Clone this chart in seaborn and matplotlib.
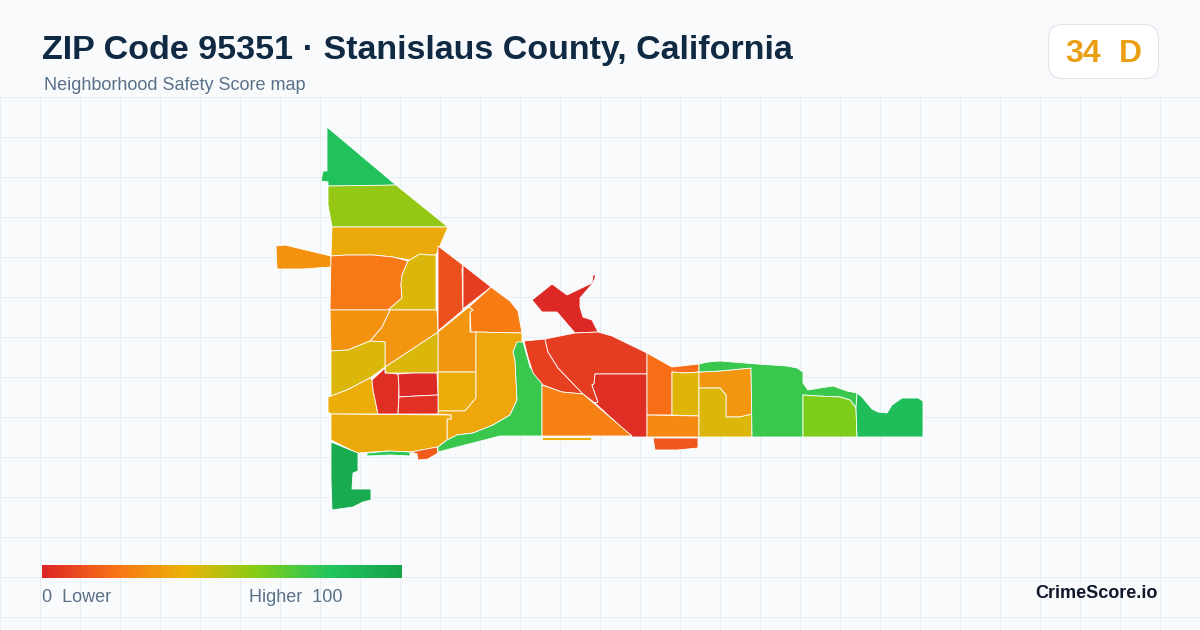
"""
Neighborhood safety score map for ZIP 95351, redrawn from tract outlines
"""

import numpy as np
import matplotlib.pyplot as plt
from matplotlib.patches import FancyBboxPatch, Polygon
import seaborn as sns

# Tract outlines as (x, y) map positions
tract_north = [(327, 127), (396, 185), (363, 186), (328, 186), (328, 182), (321, 181), (323, 171), (327, 171)]
tract_north2 = [(328, 186), (396, 185), (448, 227), (332, 227), (328, 205)]
tract_north3 = [(332, 227), (448, 227), (436, 255), (428, 255), (420, 254), (410, 260), (393, 257), (373, 255), (347, 255), (331, 256)]
tract_stub = [(276, 246), (285, 245), (331, 256), (331, 267), (303, 269), (277, 269)]
tract_west = [(331, 256), (347, 255), (373, 255), (393, 257), (408, 261), (402, 275), (401, 285), (402, 298), (388, 310), (330, 310)]
tract_west_yellow = [(408, 261), (420, 254), (428, 255), (436, 255), (436, 310), (388, 310), (402, 298), (401, 285), (402, 275)]
tract_redorange = [(438, 246), (463, 265), (462, 269), (463, 310), (438, 331)]
tract_red_wedge = [(463, 265), (491, 287), (463, 309)]
tract_ne_orange = [(491, 287), (510, 301), (518, 311), (522, 333), (471, 332), (470, 312), (473, 310), (469, 307)]
tract_mid_a = [(438, 332), (469, 307), (473, 310), (470, 312), (470, 332), (476, 332), (476, 372), (438, 372)]
tract_mid_b = [(438, 372), (476, 372), (476, 398), (465, 411), (438, 411)]
tract_mid_c = [(476, 332), (522, 333), (522, 342), (517, 343), (513, 352), (515, 360), (517, 400), (510, 415), (493, 425),
               (473, 433), (457, 435), (447, 440), (447, 419), (451, 419), (451, 415), (438, 414), (438, 411), (465, 411), (476, 398)]
tract_diag_yellow = [(438, 332), (438, 373), (413, 373), (386, 373), (385, 367)]
tract_center = [(390, 310), (437, 310), (438, 332), (385, 367), (385, 342), (370, 341), (382, 327)]
tract_west2 = [(330, 310), (390, 310), (382, 327), (370, 341), (348, 350), (331, 351)]
tract_west_yellow2 = [(331, 351), (348, 350), (370, 341), (385, 342), (385, 367), (370, 378), (347, 390), (331, 396)]
tract_low_left = [(328, 397), (331, 396), (347, 390), (370, 378), (372, 380), (373, 390), (378, 414), (331, 414), (328, 412)]
tract_red_a = [(385, 368), (385, 373), (398, 374), (399, 387), (398, 414), (378, 414), (373, 390), (372, 380)]
tract_red_b = [(398, 374), (413, 373), (437, 373), (438, 395), (416, 396), (399, 397), (399, 387)]
tract_red_c = [(399, 397), (416, 396), (438, 395), (438, 414), (398, 414)]
tract_south = [(331, 414), (451, 415), (451, 419), (447, 419), (447, 440), (438, 447), (423, 450), (410, 452), (387, 451),
               (358, 453), (353, 451), (331, 440)]
tract_strip = [(367, 453), (390, 451), (410, 452), (410, 456), (390, 455), (367, 456)]
tract_south_red = [(411, 452), (437, 447), (438, 453), (428, 459), (418, 460), (417, 454)]
tract_sw_green = [(331, 442), (353, 451), (358, 453), (358, 471), (353, 473), (352, 489), (371, 489), (371, 500), (363, 502),
                  (353, 507), (332, 510), (331, 480)]
tract_canal = [(517, 342), (523, 342), (530, 367), (542, 383), (542, 436), (500, 436), (438, 452), (438, 447), (447, 440),
               (457, 435), (473, 433), (493, 425), (510, 415), (517, 400), (515, 360), (513, 352)]
tract_north_red = [(532, 300), (552, 284), (567, 295), (592, 283), (593, 275), (596, 275), (593, 283), (580, 298), (580, 307),
                   (583, 317), (592, 320), (598, 332), (575, 333), (557, 312), (542, 312)]
tract_red_left = [(524, 341), (545, 339), (548, 352), (558, 368), (583, 394), (562, 392), (543, 385), (533, 373), (528, 357)]
tract_red_mid = [(545, 339), (575, 333), (598, 332), (612, 336), (647, 353), (647, 374), (595, 374), (594, 384), (592, 385),
                 (598, 402), (595, 403), (583, 394), (558, 368), (548, 352)]
tract_red_low = [(595, 374), (647, 374), (647, 437), (632, 437), (595, 403), (598, 402), (592, 385), (594, 384)]
tract_orange_low = [(542, 385), (562, 392), (583, 394), (632, 436), (542, 436)]
tract_sliver = [(542, 437), (567, 437), (591, 437), (591, 440), (567, 440), (542, 440)]
tract_east_orange = [(647, 353), (672, 367), (699, 364), (699, 372), (685, 373), (672, 372), (672, 415), (647, 415)]
tract_east_yellow = [(672, 372), (685, 373), (699, 372), (699, 416), (672, 415)]
tract_east_low = [(647, 415), (699, 416), (699, 437), (647, 437)]
tract_east_red = [(653, 438), (698, 438), (698, 448), (677, 450), (655, 450)]
tract_east_amber = [(699, 372), (720, 371), (751, 368), (752, 414), (740, 417), (726, 417), (726, 395), (720, 388), (699, 388)]
tract_east_yellow2 = [(699, 388), (720, 388), (726, 395), (726, 417), (740, 417), (752, 414), (752, 437), (699, 437)]
tract_east_green = [(699, 364), (708, 362), (720, 361), (757, 364), (787, 366), (797, 368), (803, 372), (803, 383), (808, 390),
                    (820, 388), (833, 386), (847, 391), (857, 393), (856, 408), (850, 400), (840, 397), (817, 396), (803, 395),
                    (803, 437), (752, 437), (751, 368), (720, 371), (699, 372)]
tract_east_lime = [(803, 395), (817, 396), (840, 397), (850, 400), (856, 408), (857, 437), (803, 437)]
tract_far_east = [(857, 393), (862, 397), (872, 409), (878, 412), (887, 413), (892, 405), (902, 398), (918, 398), (923, 401),
                  (923, 437), (857, 437), (856, 408)]

tracts = [
    tract_north, tract_north2, tract_north3, tract_stub, tract_west, tract_west_yellow, tract_redorange, tract_red_wedge,
    tract_ne_orange, tract_mid_a, tract_mid_b, tract_mid_c, tract_diag_yellow, tract_center, tract_west2, tract_west_yellow2,
    tract_low_left, tract_red_a, tract_red_b, tract_red_c, tract_south, tract_strip, tract_south_red, tract_sw_green,
    tract_canal, tract_north_red, tract_red_left, tract_red_mid, tract_red_low, tract_orange_low, tract_sliver,
    tract_east_orange, tract_east_yellow, tract_east_low, tract_east_red, tract_east_amber, tract_east_yellow2,
    tract_east_green, tract_east_lime, tract_far_east,
]
scores = [
    82, 57, 37, 30, 22, 43, 11, 6,
    23, 31, 38, 36, 43, 31, 30, 43,
    38, 2, 1, 3, 37, 78, 14, 95,
    75, 1, 7, 6, 2, 24, 38,
    19, 42, 27, 13, 31, 43,
    75, 61, 84,
]

scale_colors = ["#dc2626", "#f97316", "#eab308", "#84cc16", "#22c55e", "#16a34a"]
legend_values = np.arange(0, 101)

grid_x = np.arange(0, 1201, 40)
grid_y = np.arange(96.5, 631, 40)

title = "ZIP Code 95351 · Stanislaus County, California"
subtitle = "Neighborhood Safety Score map"
overall_score = "34"
overall_grade = "D"

W, H = 1200, 630
BG = "#f8fafc"
SLATE = "#5a7089"

sns.set_theme(style="whitegrid", rc={
    "figure.facecolor": BG,
    "axes.facecolor": BG,
    "grid.color": "#e6f0f4",
    "grid.linewidth": 0.75,
})
plt.rcParams['font.family'] = ['Liberation Sans', 'DejaVu Sans']

score_cmap = sns.blend_palette(scale_colors, as_cmap=True)

fig = plt.figure(figsize=(12, 6.3), dpi=100)

# Map area, the header stays free of the grid
ax = fig.add_axes([0, 0, 1, 1 - 96 / H])
ax.set_xlim(0, W)
ax.set_ylim(H, 96)
ax.set_xticks(grid_x)
ax.set_yticks(grid_y)
ax.tick_params(left=False, bottom=False, labelleft=False, labelbottom=False)
sns.despine(ax=ax, left=True, bottom=True, right=True, top=True)
ax.set_axisbelow(True)

for outline, score in zip(tracts, scores):
    ax.add_patch(Polygon(outline, closed=True, facecolor=score_cmap(score / 100),
                         edgecolor="white", linewidth=0.6, joinstyle="round"))

# Header
fig.text(42 / W, 1 - 59.5 / H, title, fontsize=24.5, fontweight="bold", color="#102a43", va="baseline", ha="left")
fig.text(44 / W, 1 - 90.5 / H, subtitle, fontsize=12.95, color=SLATE, va="baseline", ha="left")

# Score badge
overlay = fig.add_axes([0, 0, 1, 1], facecolor="none")
overlay.set_xlim(0, W)
overlay.set_ylim(H, 0)
overlay.axis("off")
overlay.add_patch(FancyBboxPatch((1048.5, 24.5), 110, 54, boxstyle="round,pad=0,rounding_size=14",
                                 facecolor="white", edgecolor="#dfe5ee", linewidth=0.8))
overlay.text(1065, 62, overall_score, fontsize=23, fontweight="bold", color="#eb9f12", va="baseline", ha="left")
overlay.text(1119, 62, overall_grade, fontsize=23, fontweight="bold", color="#eb9f12", va="baseline", ha="left")

# Legend ramp
legend_ax = fig.add_axes([42 / W, 1 - 578 / H, 360 / W, 13 / H])
sns.heatmap(legend_values.reshape(1, -1), ax=legend_ax, cmap=score_cmap, vmin=0, vmax=100,
            cbar=False, xticklabels=False, yticklabels=False)

overlay.text(42, 602.5, "0  Lower", fontsize=13, color=SLATE, va="baseline", ha="left")
overlay.text(249, 602.5, "Higher  100", fontsize=13, color=SLATE, va="baseline", ha="left")
overlay.text(1158, 598, "CrimeScore.io", fontsize=13, fontweight="bold", color="#0f172a", va="baseline", ha="right")

fig.savefig("out.png", dpi=100, facecolor=BG)
